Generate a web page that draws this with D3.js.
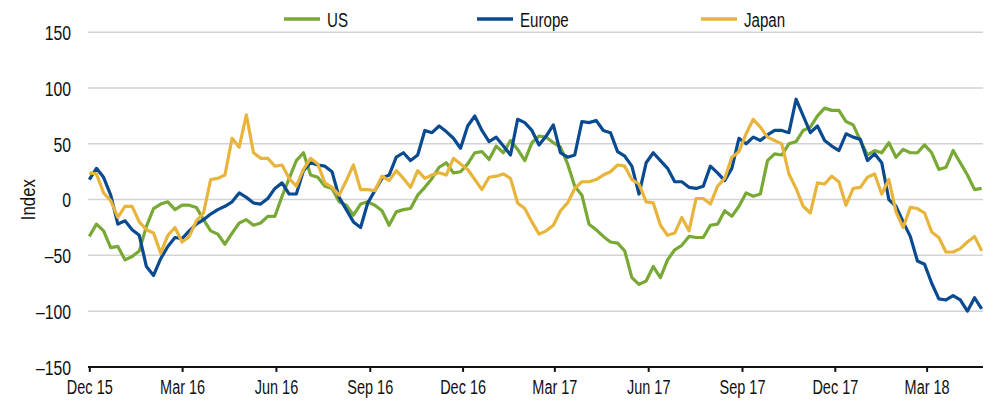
<!DOCTYPE html>
<html>
<head>
<meta charset="utf-8">
<script src="https://cdn.jsdelivr.net/npm/d3@7"></script>
<style>
  html, body { margin: 0; padding: 0; background: #fff; }
  svg { display: block; }
  text { font-family: "Liberation Sans", Arial, sans-serif; fill: #111; }
</style>
</head>
<body>
<svg id="chart" width="1000" height="401"></svg>
<script>
// ---------------- DATA ----------------
// Weekly observations starting 1 Dec 2015
const startDate = "2015-12-01";
const seriesNames = ["US", "Europe", "Japan"];
const seriesColors = ["#78a935", "#0a4a90", "#e8b43c"];

const usValues = [
  -33,-22,-28,-43,-42,-54,-51,-46,-24,-8,
  -4,-2,-9,-5,-5,-7,-18,-28,-31,-40,
  -30,-21,-18,-23,-21,-15,-15,3,19,35,
  42,22,20,12,10,-2,-5,-14,-4,-2,
  -5,-10,-23,-11,-9,-8,4,11,19,29,
  33,24,25,32,42,43,36,48,42,53,
  45,35,51,57,56,51,47,32,12,4,
  -22,-27,-33,-38,-39,-46,-70,-76,-73,-60,
  -70,-54,-45,-41,-33,-34,-34,-23,-22,-10,
  -15,-6,6,3,5,35,41,40,50,52,
  62,65,75,82,80,80,70,67,53,40,
  44,42,51,38,45,42,42,49,42,27,
  29,44,33,22,9,10
];

const europeValues = [
  18,28,20,4,-22,-19,-27,-32,-60,-68,
  -53,-42,-34,-35,-28,-22,-18,-13,-9,-6,
  -2,6,2,-3,-4,1,10,15,5,5,
  26,33,31,30,25,2,-9,-20,-25,-3,
  8,19,22,38,42,35,40,62,60,66,
  61,55,46,66,75,62,52,56,48,40,
  72,69,62,49,57,67,42,38,40,70,
  69,71,62,60,43,39,30,5,33,42,
  35,28,16,16,11,10,12,30,24,17,
  28,55,50,56,53,58,62,62,60,90,
  75,60,66,53,48,44,59,56,54,35,
  41,33,0,-6,-20,-33,-55,-58,-75,-89,
  -90,-86,-90,-100,-88,-98
];

const japanValues = [
  24,23,6,-1,-16,-6,-6,-20,-27,-30,
  -48,-32,-25,-38,-33,-19,-12,18,19,22,
  55,47,76,42,37,37,30,31,19,12,
  27,37,32,15,11,4,17,31,9,9,
  8,21,17,26,19,11,26,19,22,24,
  22,37,32,27,18,9,20,21,23,19,
  -3,-8,-20,-31,-28,-23,-10,-3,10,16,
  16,18,22,25,31,30,18,14,-2,-3,
  -23,-32,-30,-16,-28,1,1,-4,12,19,
  38,43,59,72,65,56,53,50,23,10,
  -6,-12,15,14,21,16,-5,10,11,20,
  23,5,18,-11,-25,-7,-8,-12,-29,-34,
  -47,-47,-44,-38,-33,-46
];

const yTicks = [-150, -100, -50, 0, 50, 100, 150];
const xTickDates = ["2015-12-01","2016-03-01","2016-06-01","2016-09-01","2016-12-01",
                    "2017-03-01","2017-06-01","2017-09-01","2017-12-01","2018-03-01"];
const xTickLabels = ["Dec 15","Mar 16","Jun 16","Sep 16","Dec 16",
                     "Mar 17","Jun 17","Sep 17","Dec 17","Mar 18"];
const yAxisTitle = "Index";

// ---------------- CHART ----------------
const parse = d3.timeParse("%Y-%m-%d");
const t0 = parse(startDate);
const dates = d3.range(usValues.length).map(i => d3.timeDay.offset(t0, 7 * i));
const allSeries = [usValues, europeValues, japanValues];

const svg = d3.select("#chart");

const x = d3.scaleTime()
  .domain([parse("2015-12-01"), parse("2018-04-25")])
  .range([89.3, 982.7]);
const y = d3.scaleLinear().domain([-150, 150]).range([366.9, 32.3]);

// gridlines
svg.append("g")
  .selectAll("line")
  .data(yTicks.filter(v => v !== -150))
  .join("line")
  .attr("x1", 88).attr("x2", 983)
  .attr("y1", d => y(d)).attr("y2", d => y(d))
  .attr("stroke", "#d3d3d3").attr("stroke-width", 1.5);

// y labels
const yAxis = d3.axisLeft(y).tickValues(yTicks).tickSize(0).tickPadding(0)
  .tickFormat(d => d < 0 ? "\u2013" + Math.abs(d) : d);
const gy = svg.append("g").attr("transform", "translate(71,0)").call(yAxis);
gy.select(".domain").remove();
gy.selectAll("text").style("font-size", "20.5px").attr("dy", "0.36em")
  .attr("transform", "scale(0.77,1)");

// y title
svg.append("text")
  .attr("transform", `translate(34.5,${y(0)}) rotate(-90) scale(0.8,1)`)
  .attr("text-anchor", "middle")
  .style("font-size", "21px")
  .text(yAxisTitle);

// lines
const line = d3.line()
  .x((d, i) => x(dates[i]))
  .y(d => y(d));

svg.append("g")
  .selectAll("path")
  .data(allSeries)
  .join("path")
  .attr("d", d => line(d))
  .attr("fill", "none")
  .attr("stroke", (d, i) => seriesColors[i])
  .attr("stroke-width", 3.2)
  .attr("stroke-linejoin", "round");

// x axis
const xAxis = d3.axisBottom(x)
  .tickValues(xTickDates.map(parse))
  .tickSize(5)
  .tickPadding(7)
  .tickFormat((d, i) => xTickLabels[i]);
const gx = svg.append("g").attr("transform", `translate(0,${y(-150)})`).call(xAxis);
gx.select(".domain").attr("d", `M88,0H983`).attr("stroke", "#111").attr("stroke-width", 2);
gx.selectAll(".tick line").attr("stroke", "#111").attr("stroke-width", 2);
gx.selectAll("text").style("font-size", "21px").attr("transform", "scale(0.69,1)");

// legend
const legendX = [284, 477, 701];
const lg = svg.append("g").selectAll("g").data(seriesNames).join("g")
  .attr("transform", (d, i) => `translate(${legendX[i]},19)`);
lg.append("line").attr("x1", 0).attr("x2", 36).attr("y1", 0).attr("y2", 0)
  .attr("stroke", (d, i) => seriesColors[i]).attr("stroke-width", 3.5);
lg.append("text").attr("transform", "translate(43,7.5) scale(0.72,1)")
  .style("font-size", "21px").text(d => d);
</script>
</body>
</html>
